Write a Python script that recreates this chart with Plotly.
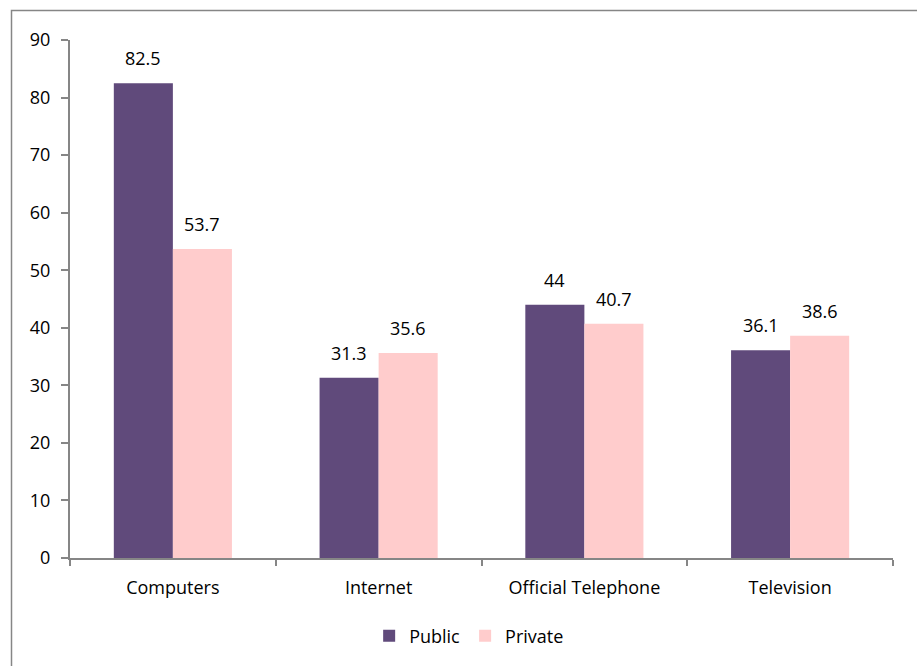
import plotly.graph_objects as go

categories = ["Computers", "Internet", "Official Telephone", "Television"]
public = [82.5, 31.3, 44, 36.1]
private = [53.7, 35.6, 40.7, 38.6]
y_ticks = [0, 10, 20, 30, 40, 50, 60, 70, 80, 90]

PUBLIC_COLOR = "#604A7B"
PRIVATE_COLOR = "#FFCCCC"
AXIS_COLOR = "#868686"
FONT = dict(family="Open Sans, Calibri, sans-serif", size=18, color="#000000")

W, H = 917, 666
ML, MR, MT, MB = 70, 24, 40, 108
plot_w = W - ML - MR
plot_h = H - MT - MB
BARGAP = 0.426
bar_px = plot_w / len(categories) * (1 - BARGAP) / 2

fig = go.Figure()
fig.add_trace(go.Bar(name="Public", x=categories, y=public,
                     marker=dict(color=PUBLIC_COLOR, line=dict(width=0))))
fig.add_trace(go.Bar(name="Private", x=categories, y=private,
                     marker=dict(color=PRIVATE_COLOR, line=dict(width=0))))

# value labels above each bar
annotations = []
for vals, shift in ((public, -bar_px / 2), (private, bar_px / 2)):
    for cat, v in zip(categories, vals):
        annotations.append(dict(
            x=cat, y=v, xref="x", yref="y", text=f"{v:g}",
            showarrow=False, xshift=shift, yshift=25,
            font=FONT, yanchor="middle"))

# outer chart frame
def px_to_paper_x(px):
    return (px - ML) / plot_w

def px_to_paper_y(py):
    return (H - MB - py) / plot_h

shapes = [dict(type="rect", xref="paper", yref="paper",
               x0=px_to_paper_x(11.5), x1=px_to_paper_x(W + 5),
               y0=px_to_paper_y(H + 5), y1=px_to_paper_y(10.5),
               line=dict(color=AXIS_COLOR, width=1.5), layer="below")]

fig.update_layout(
    width=W, height=H,
    margin=dict(l=ML, r=MR, t=MT, b=MB),
    paper_bgcolor="white", plot_bgcolor="white",
    barmode="group", bargap=BARGAP, bargroupgap=0,
    font=FONT,
    showlegend=True,
    legend=dict(orientation="h", x=0.485, xanchor="center",
                y=px_to_paper_y(636), yanchor="middle",
                font=FONT, itemwidth=30, traceorder="normal"),
    annotations=annotations,
    shapes=shapes,
    xaxis=dict(showline=True, linecolor=AXIS_COLOR, linewidth=2,
               ticks="outside", tickson="boundaries", ticklen=6,
               tickcolor=AXIS_COLOR, tickwidth=2, showgrid=False,
               tickfont=FONT, range=[-0.5, 3.5], ticklabelstandoff=12),
    yaxis=dict(showline=True, linecolor=AXIS_COLOR, linewidth=2,
               ticks="outside", ticklen=7, tickcolor=AXIS_COLOR, tickwidth=2,
               showgrid=False, zeroline=False, range=[0, 90],
               tickvals=y_ticks, tickfont=FONT, ticklabelstandoff=7),
)

fig.write_html("out.html")
